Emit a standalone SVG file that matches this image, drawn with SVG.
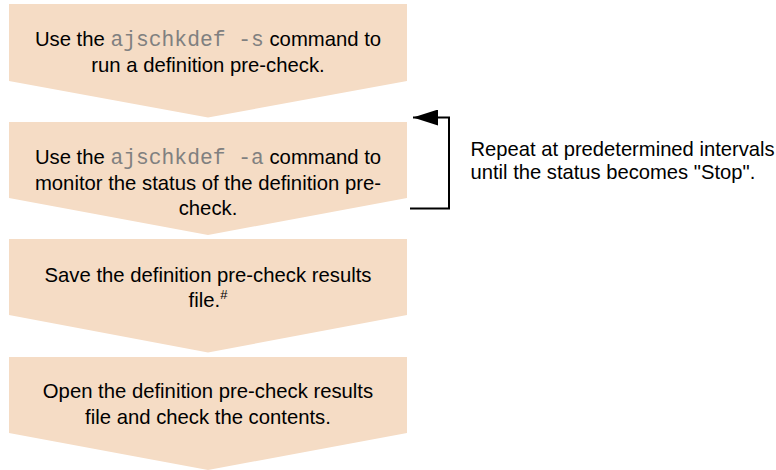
<svg xmlns="http://www.w3.org/2000/svg" width="776" height="470" viewBox="0 0 776 470">
<defs>
<style>
.box{fill:#F5DCC5;stroke:none}
.t{font-family:"Liberation Sans",Arial,sans-serif;font-size:20.3px;fill:#000;text-anchor:middle}
.n{font-family:"Liberation Sans",Arial,sans-serif;font-size:20.2px;fill:#000}
.m{font-family:"Liberation Mono","Courier New",monospace;font-size:21.3px;fill:#808080}
.ln{fill:none;stroke:#000;stroke-width:2}
</style>
<marker id="ah" markerUnits="userSpaceOnUse" markerWidth="26" markerHeight="16" refX="25" refY="8" orient="auto">
<path d="M0,0 L25,8 L0,16 Z" fill="#000"/>
</marker>
</defs>
<rect width="776" height="470" fill="#fff"/>
<g id="step1">
<path class="box" d="M9,4 H407 V81 L208,117.5 L9,81 Z"/>
<text class="t" x="208" y="46">Use the <tspan class="m">ajschkdef -s</tspan> command to</text>
<text class="t" x="208" y="72">run a definition pre-check.</text>
</g>
<g id="step2">
<path class="box" d="M9,122 H407 V198 L208,235 L9,198 Z"/>
<text class="t" x="208" y="164">Use the <tspan class="m">ajschkdef -a</tspan> command to</text>
<text class="t" x="208" y="190">monitor the status of the definition pre-</text>
<text class="t" x="208" y="215">check.</text>
</g>
<g id="step3">
<path class="box" d="M9,239 H407 V315 L208,352.5 L9,315 Z"/>
<text class="t" x="208" y="282">Save the definition pre-check results</text>
<text class="t" x="208" y="307">file.<tspan font-size="13" dy="-8">#</tspan></text>
</g>
<g id="step4">
<path class="box" d="M9,357 H407 V433 L208,470 L9,433 Z"/>
<text class="t" x="208" y="398">Open the definition pre-check results</text>
<text class="t" x="208" y="424">file and check the contents.</text>
</g>
<g id="connectors">
<path class="ln" d="M410,208.5 H449 V117.5 H413" marker-end="url(#ah)"/>
</g>
<g id="note">
<text class="n" x="470.5" y="156">Repeat at predetermined intervals</text>
<text class="n" x="470.5" y="179">until the status becomes "Stop".</text>
</g>
</svg>
